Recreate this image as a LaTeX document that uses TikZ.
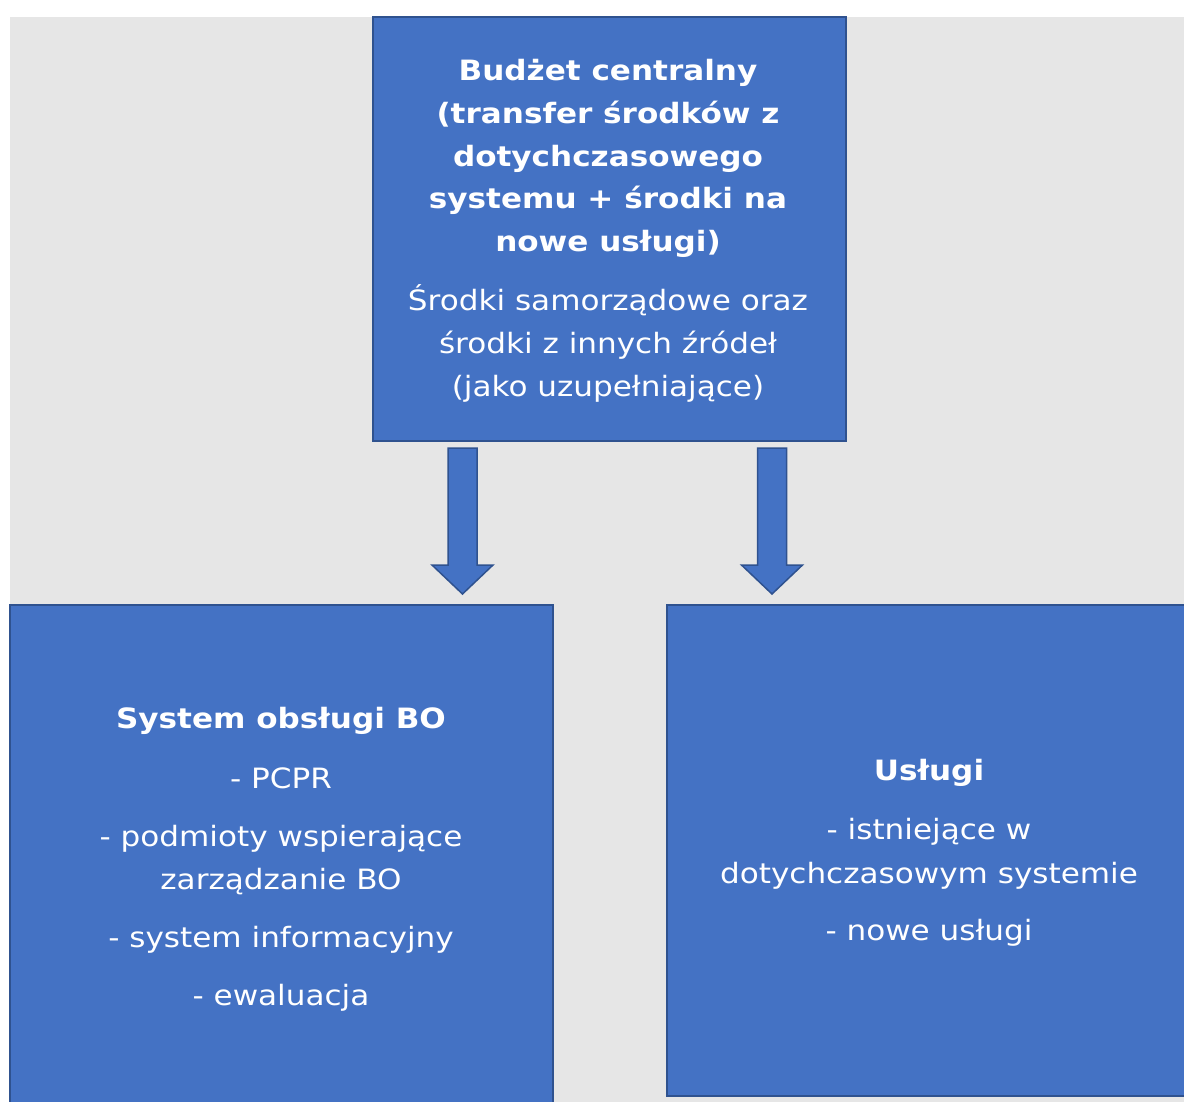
\documentclass[tikz,border=0pt]{standalone}
\usepackage{fontspec}
\setmainfont{DejaVu Sans}[FakeStretch=1.11]
\definecolor{boxblue}{HTML}{4472C4}
\definecolor{boxedge}{HTML}{2F528F}
\definecolor{bgray}{HTML}{E6E6E6}
\tikzset{
  box/.style={draw=boxedge, fill=boxblue, line width=2.2pt, inner sep=0pt, anchor=north west},
  txt/.style={text=white, anchor=base, inner sep=0pt, font=\fontsize{28}{33}\selectfont},
  btxt/.style={text=white, anchor=base, inner sep=0pt, font=\fontsize{28}{33}\selectfont\bfseries},
  blockarrow/.style={draw=boxedge, fill=boxblue, line width=1.5pt, line join=miter},
  downarrow/.pic={\draw[blockarrow] (-14.5,0) -- (14.5,0) -- (14.5,117) -- (30.5,117) -- (0,146) -- (-30.5,117) -- (-14.5,117) -- cycle;}
}
\begin{document}
\begin{tikzpicture}[x=1pt,y=-1pt]
\useasboundingbox (0,0) rectangle (1184,1102);
\clip (0,0) rectangle (1184,1102);
\fill[bgray] (10,17) rectangle (1184,1102);
% boxes
\node[box, minimum width=473pt, minimum height=424pt] (top) at (372,16) {};
\node[box, minimum width=543pt, minimum height=520pt] (left) at (9,604) {};
\node[box, minimum width=530pt, minimum height=491pt] (right) at (666,604) {};
% arrows
\pic at (462.5,448) {downarrow};
\pic at (772,448) {downarrow};
% top text
\node[btxt] (t1) at (608,81) {Budżet centralny};
\node[btxt] (t2) at (608,124) {(transfer środków z};
\node[btxt] (t3) at (608,167) {dotychczasowego};
\node[btxt] (t4) at (608,209) {systemu + środki na};
\node[btxt] (t5) at (608,252) {nowe usługi)};
\node[txt] (t6) at (608,310) {Środki samorządowe oraz};
\node[txt] (t7) at (608,353) {środki z innych źródeł};
\node[txt] (t8) at (608,396) {(jako uzupełniające)};
% left text
\node[btxt] (l1) at (281,728) {System obsługi BO};
\node[txt] (l2) at (281,788) {- PCPR};
\node[txt] (l3) at (281,846) {- podmioty wspierające};
\node[txt] (l4) at (281,889) {zarządzanie BO};
\node[txt] (l5) at (281,947) {- system informacyjny};
\node[txt] (l6) at (281,1005) {- ewaluacja};
% right text
\node[btxt] (r1) at (929,780) {Usługi};
\node[txt] (r2) at (929,839) {- istniejące w};
\node[txt] (r3) at (929,883) {dotychczasowym systemie};
\node[txt] (r4) at (929,940) {- nowe usługi};
\end{tikzpicture}
\end{document}
